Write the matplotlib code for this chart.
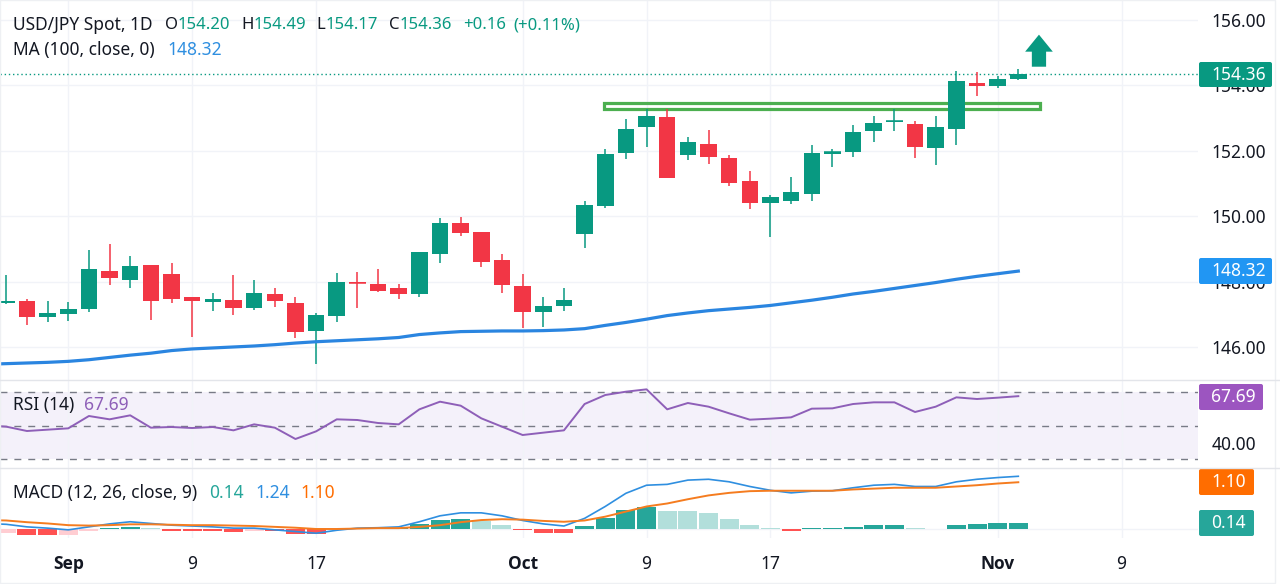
import matplotlib
matplotlib.use("Agg")
import matplotlib.pyplot as plt
import numpy as np
from matplotlib.patches import FancyArrow, FancyBboxPatch, Rectangle

W, H = 1280, 584
GREEN = "#089981"
RED = "#F23645"
BLUE = "#2a85e0"
PURPLE = "#8e5fb8"
ORANGE = "#FF6D00"
TEAL = "#26A69A"
INK = "#131722"
GRID = "#f1f3f8"
SEP = "#e3e5ea"

plt.rcParams["font.family"] = ["Noto Sans", "DejaVu Sans"]

opens = [147.35, 147.41, 146.91, 147.00, 147.16, 148.31, 148.05, 148.52, 148.22, 147.53,
         147.37, 147.43, 147.20, 147.63, 147.34, 146.48, 146.95, 148.00, 147.94, 147.79,
         147.61, 148.85, 149.80, 149.52, 148.66, 147.87, 147.06, 147.25, 149.44, 150.30,
         151.94, 152.73, 153.02, 151.86, 152.21, 151.77, 151.09, 150.39, 150.46, 150.68,
         151.90, 151.95, 152.59, 152.87, 152.83, 152.07, 152.68, 154.07, 153.99, 154.20]
highs = [148.19, 147.48, 147.41, 147.38, 148.95, 149.14, 148.77, 148.52, 148.57, 147.54,
         147.65, 148.20, 148.06, 147.80, 147.54, 147.05, 148.26, 148.28, 148.38, 147.92,
         148.90, 149.93, 149.98, 149.52, 148.84, 148.23, 147.52, 147.79, 150.46, 152.04,
         152.98, 153.27, 153.27, 152.43, 152.62, 151.86, 151.39, 150.65, 151.19, 152.17,
         152.04, 152.79, 153.06, 153.27, 152.90, 153.06, 154.43, 154.41, 154.29, 154.49]
lows = [147.30, 146.67, 146.76, 146.78, 147.06, 147.89, 147.80, 146.83, 147.35, 146.32,
        147.10, 146.98, 147.12, 147.23, 146.26, 145.48, 146.76, 147.20, 147.68, 147.47,
        147.54, 148.56, 149.40, 148.46, 147.64, 146.58, 146.60, 147.09, 149.04, 150.24,
        151.75, 152.11, 151.16, 151.73, 151.61, 150.92, 150.23, 149.37, 150.37, 150.47,
        151.49, 151.82, 152.27, 152.59, 151.77, 151.55, 152.17, 153.68, 153.93, 154.17]
closes = [147.42, 146.93, 147.05, 147.17, 148.37, 148.10, 148.48, 147.41, 147.47, 147.40,
          147.47, 147.20, 147.66, 147.40, 146.47, 146.97, 147.99, 147.97, 147.70, 147.61,
          148.90, 149.78, 149.50, 148.59, 147.90, 147.06, 147.26, 147.44, 150.34, 151.90,
          152.68, 153.05, 151.17, 152.28, 151.82, 151.02, 150.40, 150.58, 150.74, 151.92,
          151.95, 152.58, 152.86, 152.91, 152.11, 152.73, 154.12, 153.99, 154.18, 154.36]
# the line series start one bar earlier, off the left edge
ma100 = [145.47, 145.49, 145.51, 145.53, 145.56, 145.61, 145.68, 145.75, 145.81, 145.89, 145.94,
         145.97, 146.00, 146.03, 146.07, 146.12, 146.16, 146.19, 146.22, 146.25, 146.29,
         146.38, 146.43, 146.47, 146.48, 146.49, 146.49, 146.50, 146.52, 146.56, 146.66,
         146.75, 146.85, 146.96, 147.04, 147.11, 147.16, 147.21, 147.27, 147.35, 147.43,
         147.52, 147.62, 147.70, 147.79, 147.88, 147.97, 148.07, 148.16, 148.24, 148.32]
rsi = [50.3, 49.48, 46.89, 47.69, 48.48, 55.85, 53.86, 56.25, 48.88, 49.28, 48.68,
       49.28, 47.29, 50.87, 48.88, 42.12, 46.69, 53.86, 53.46, 51.67, 50.87,
       59.83, 64.40, 62.02, 54.45, 49.48, 44.50, 45.90, 47.29, 63.01, 68.38,
       70.37, 71.77, 59.83, 63.61, 61.42, 57.44, 53.66, 54.26, 55.05, 60.23,
       60.42, 63.01, 64.01, 64.01, 58.24, 61.42, 66.99, 66.00, 66.79, 67.69]
macd = [0.13, 0.11, 0.05, 0.02, -0.02, 0.05, 0.12, 0.17, 0.13, 0.09, 0.07,
        0.05, 0.02, 0.02, -0.02, -0.06, -0.10, -0.03, 0.02, 0.03, 0.05,
        0.17, 0.31, 0.38, 0.38, 0.31, 0.20, 0.12, 0.07, 0.25, 0.53,
        0.84, 1.03, 1.05, 1.15, 1.17, 1.11, 1.00, 0.91, 0.85, 0.89,
        0.90, 0.97, 1.03, 1.05, 1.00, 1.00, 1.11, 1.17, 1.21, 1.24]
signal = [0.21, 0.20, 0.16, 0.13, 0.09, 0.08, 0.09, 0.11, 0.11, 0.10, 0.09,
          0.09, 0.08, 0.07, 0.05, 0.03, 0.00, 0.00, 0.01, 0.02, 0.02,
          0.05, 0.09, 0.16, 0.21, 0.23, 0.22, 0.19, 0.17, 0.20, 0.29,
          0.41, 0.53, 0.60, 0.70, 0.79, 0.85, 0.89, 0.90, 0.90, 0.90,
          0.90, 0.93, 0.95, 0.97, 0.97, 0.97, 1.00, 1.03, 1.07, 1.10]
hist = [-0.10, -0.14, -0.15, -0.13, -0.05, 0.02, 0.05, 0.015, -0.04, -0.05,
        -0.055, -0.08, -0.05, -0.055, -0.11, -0.115, 0.01, 0.012, 0.014, 0.016,
        0.11, 0.20, 0.235, 0.18, 0.10, -0.03, -0.09, -0.10, 0.07, 0.26,
        0.44, 0.52, 0.43, 0.42, 0.37, 0.235, 0.10, 0.015, -0.05, 0.02,
        0.025, 0.055, 0.085, 0.10, 0.02, 0.01, 0.10, 0.125, 0.14, 0.14]

price_ticks = [146, 148, 150, 152, 154, 156]
date_ticks = [3, 9, 15, 25, 31, 37, 48, 54]
date_labels = ["Sep", "9", "17", "Oct", "9", "17", "Nov", "9"]
bold_labels = ["Sep", "Oct", "Nov"]
last_close = 154.36
zone_low, zone_high = 153.28, 153.45


def pane(top, bottom):
    return fig.add_axes([0, 1 - bottom / H, 1198 / W, (bottom - top) / H])


fig = plt.figure(figsize=(W / 100, H / 100), dpi=100, facecolor="white")
ax = pane(0, 380)
ax_rsi = pane(381, 468)
ax_macd = pane(468, 538)
x = np.arange(len(closes))
x_line = np.arange(-1, len(closes))

for a in (ax, ax_rsi, ax_macd):
    a.set_xlim(-0.305, 57.7)
    a.set_xticks(date_ticks)
    a.grid(axis="x", color=GRID, lw=1)
    a.set_axisbelow(True)
    a.tick_params(length=0)
    for s in a.spines.values():
        s.set_visible(False)
    a.set_xticklabels([])

# price pane
ax.set_ylim(144.99, 156.61)
ax.set_yticks(price_ticks)
ax.set_yticklabels(["%.2f" % p for p in price_ticks], fontsize=12.5, color=INK)
ax.yaxis.tick_right()
ax.tick_params(axis="y", pad=10, length=0)
ax.grid(axis="y", color=GRID, lw=1)
ax.axhline(last_close, color=GREEN, ls=(0, (1, 2)), lw=1, zorder=1)
ax.add_patch(Rectangle((28.94, zone_low), 21.12, zone_high - zone_low, fill=False,
                       ec="#4CAF50", lw=2.3, zorder=2))
for i in x:
    c = GREEN if closes[i] >= opens[i] else RED
    ax.vlines(i, lows[i], highs[i], color=c, lw=1.1, zorder=3)
    ax.bar(i, closes[i] - opens[i], bottom=opens[i], width=0.8, color=c, zorder=4)
    if abs(closes[i] - opens[i]) < 0.05:
        ax.hlines(closes[i], i - 0.4, i + 0.4, color=c, lw=1.1, zorder=4)
ax.plot(x_line, ma100, color=BLUE, lw=2.3, zorder=3)
ax.add_patch(FancyArrow(50, 154.57, 0, 0.98, width=0.69, head_width=1.34, head_length=0.52,
                        length_includes_head=True, color=GREEN, lw=0, zorder=5))

# rsi pane
ax_rsi.set_ylim(24.8, 76.75)
ax_rsi.axhspan(30, 70, color="#7E57C2", alpha=0.08, lw=0, zorder=0)
for lvl in (30, 50, 70):
    ax_rsi.axhline(lvl, color="#787B86", lw=1, ls=(0, (5, 5)), zorder=1)
ax_rsi.plot(x_line, rsi, color=PURPLE, lw=1.4, zorder=3)
ax_rsi.yaxis.tick_right()
ax_rsi.set_yticks([40])
ax_rsi.set_yticklabels(["40.00"], fontsize=12.5, color=INK)
ax_rsi.tick_params(axis="y", pad=10, length=0)

# macd pane
ax_macd.set_ylim(-0.212, 1.435)
ax_macd.set_yticks([])
ax_macd.axhline(0, color=GRID, lw=1, zorder=0)
hist_colors = []
for i, v in enumerate(hist):
    prev = hist[i - 1] if i else -0.2
    if v >= 0:
        hist_colors.append(TEAL if v >= prev else "#B2DFDB")
    else:
        hist_colors.append("#FF5252" if v < prev else "#FFCDD2")
ax_macd.bar(x, hist, width=0.92, color=hist_colors, zorder=2)
ax_macd.plot(x_line, macd, color="#2f8fe0", lw=1.2, zorder=3)
ax_macd.plot(x_line, signal, color="#f57c1f", lw=1.4, zorder=3)
ax_macd.tick_params(axis="x", pad=12, length=0)
# month names are heavier; the regular Noto Sans here has no bold cut
labs = ax_macd.set_xticklabels(date_labels, fontsize=12.5, color=INK)
for lab, txt in zip(labs, date_labels):
    if txt in bold_labels:
        lab.set_fontfamily("Open Sans")
        lab.set_fontweight("bold")

# overlay in pixel coords for legends, value boxes and separators
top = fig.add_axes([0, 0, 1, 1], zorder=10)
top.set_xlim(0, W)
top.set_ylim(H, 0)
top.axis("off")
top.patch.set_alpha(0)
top.plot([0, W], [380, 380], color=SEP, lw=1)
top.plot([0, W], [468, 468], color=SEP, lw=1)
top.add_patch(Rectangle((0, 0), 1275, 583, fill=False, ec="#eef0f3", lw=1))


def label(px, py, txt, color=INK, size=12.5):
    top.text(px, py, txt, color=color, fontsize=size, va="center", ha="left")


label(13, 25, "USD/JPY Spot, 1D")
for px, txt, c in [(165, "O", INK), (178, "154.20", GREEN), (241, "H", INK), (254, "154.49", GREEN),
                   (316, "L", INK), (326, "154.17", GREEN), (389, "C", INK), (400, "154.36", GREEN),
                   (463, "+0.16", GREEN), (513, "(+0.11%)", GREEN)]:
    label(px, 25, txt, c, 12)
label(13, 50, "MA (100, close, 0)")
label(167, 50, "148.32", "#2f8fe0")
label(13, 405, "RSI (14)")
label(84, 405, "67.69", PURPLE)
label(13, 493, "MACD (12, 26, close, 9)")
label(209, 493, "0.14", TEAL)
label(255, 493, "1.24", "#2f8fe0")
label(300, 493, "1.10", ORANGE)


def value_box(x0, x1, y0, y1, txt, color):
    top.add_patch(FancyBboxPatch((x0 + 2, y0 + 2), x1 - x0 - 4, y1 - y0 - 4,
                                 boxstyle="round,pad=2,rounding_size=2", fc=color, ec="none"))
    top.text(1211, (y0 + y1) / 2, txt, color="white", fontsize=12.5, ha="left", va="center")


value_box(1199, 1272, 62, 87, "154.36", GREEN)
value_box(1199, 1272, 258, 284, "148.32", "#2196F3")
value_box(1199, 1263, 384, 410, "67.69", "#9C55C0")
value_box(1199, 1254, 469, 495, "1.10", ORANGE)
value_box(1199, 1254, 510, 536, "0.14", TEAL)

fig.savefig("out.png", dpi=100)
plt.close(fig)
